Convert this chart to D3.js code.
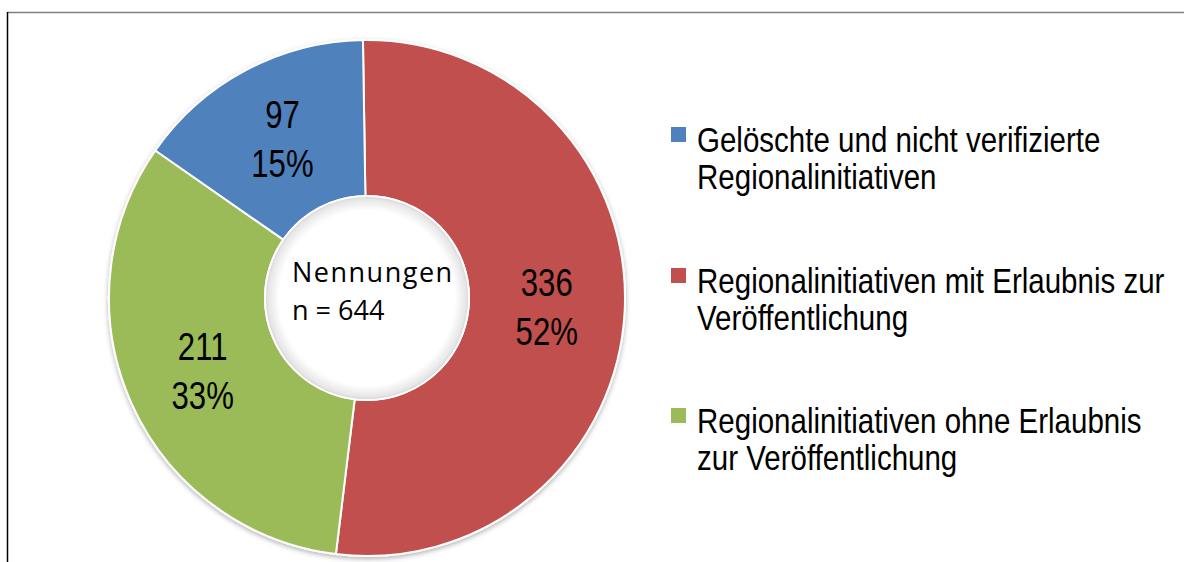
<!DOCTYPE html>
<html>
<head>
<meta charset="utf-8">
<script src="https://cdn.jsdelivr.net/npm/d3@7"></script>
<style>
  body { margin: 0; background: #fff; }
  svg { display: block; }
</style>
</head>
<body>
<div id="chart"></div>
<script>
// Werte aus der Grafik
var categories = ["Regionalinitiativen mit Erlaubnis zur Veröffentlichung",
                  "Regionalinitiativen ohne Erlaubnis zur Veröffentlichung",
                  "Gelöschte und nicht verifizierte Regionalinitiativen"];
var values = [336, 211, 97];
var percents = ["52%", "33%", "15%"];
var colors = ["#C0504D", "#9BBB59", "#4F81BD"];

// Legende: Reihenfolge wie im Bild, mit Zeilenumbruch
var legendLines = [
  ["Gelöschte und nicht verifizierte", "Regionalinitiativen"],
  ["Regionalinitiativen mit Erlaubnis zur", "Veröffentlichung"],
  ["Regionalinitiativen ohne Erlaubnis", "zur Veröffentlichung"]
];
var legendColors = ["#4F81BD", "#C0504D", "#9BBB59"];
var centerLines = ["Nennungen", "n = 644"];

var width = 1184, height = 562;
var cx = 367, cy = 298;
var rOuter = 258, rInner = 102;
var narrow = 0.82; // Arial Narrow nachbilden

var svg = d3.select("#chart").append("svg")
  .attr("width", width)
  .attr("height", height);

var defs = svg.append("defs");
var shadow = defs.append("filter").attr("id", "shadow")
  .attr("x", "-10%").attr("y", "-10%").attr("width", "120%").attr("height", "120%");
shadow.append("feDropShadow")
  .attr("dx", 0).attr("dy", 2).attr("stdDeviation", 2.5)
  .attr("flood-color", "#000").attr("flood-opacity", 0.3);

var grad = defs.append("radialGradient").attr("id", "hole");
grad.append("stop").attr("offset", "0.86").attr("stop-color", "#ffffff");
grad.append("stop").attr("offset", "0.97").attr("stop-color", "#e6e6e6");
grad.append("stop").attr("offset", "1").attr("stop-color", "#cfcfcf");

// Rahmen
svg.append("line").attr("x1", 7).attr("y1", 12.5).attr("x2", width).attr("y2", 12.5)
  .attr("stroke", "#7f7f7f").attr("stroke-width", 1.5);
svg.append("line").attr("x1", 7.5).attr("y1", 12).attr("x2", 7.5).attr("y2", height)
  .attr("stroke", "#000").attr("stroke-width", 1.5);

var startRot = -0.9 * Math.PI / 180;
var pie = d3.pie().sort(null)
  .startAngle(startRot).endAngle(startRot + 2 * Math.PI);
var arcs = pie(values);

var arc = d3.arc().innerRadius(rInner).outerRadius(rOuter);
var labelArc = d3.arc().innerRadius((rInner + rOuter) / 2).outerRadius((rInner + rOuter) / 2);

var g = svg.append("g").attr("transform", "translate(" + cx + "," + cy + ")");

g.append("g").attr("filter", "url(#shadow)")
  .selectAll("path").data(arcs).enter().append("path")
  .attr("d", arc)
  .attr("fill", function(d, i) { return colors[i]; })
  .attr("stroke", "#fff")
  .attr("stroke-width", 2)
  .attr("stroke-linejoin", "round");

// Loch mit Innenschatten
g.append("circle").attr("r", rInner)
  .attr("fill", "url(#hole)")
  .attr("stroke", "#fff").attr("stroke-width", 2);

// Datenbeschriftungen
var labels = g.selectAll("text.lbl").data(arcs).enter().append("text")
  .attr("class", "lbl")
  .attr("text-anchor", "middle")
  .style("font-family", "'Liberation Sans', Arial, sans-serif")
  .style("font-size", "38px")
  .attr("fill", "#000")
  .attr("transform", function(d) {
    var c = labelArc.centroid(d);
    return "translate(" + c[0] + "," + c[1] + ") scale(" + narrow + ",1)";
  });
labels.append("tspan").attr("x", 0).attr("y", -11.5).text(function(d) { return d.data; });
labels.append("tspan").attr("x", 0).attr("y", 37.5).text(function(d, i) { return percents[i]; });

// Mitte
g.selectAll("text.ctr").data(centerLines).enter().append("text")
  .attr("class", "ctr")
  .attr("x", -75)
  .attr("y", function(d, i) { return -16 + i * 38; })
  .style("font-family", "'Open Sans', sans-serif")
  .style("font-size", "27px")
  .style("letter-spacing", function(d, i) { return i === 0 ? "1.5px" : "0px"; })
  .attr("fill", "#000")
  .text(function(d) { return d; });

// Legende
var legendTop = [152, 293, 433];
var leg = svg.append("g").selectAll("g").data(legendLines).enter().append("g")
  .attr("transform", function(d, i) { return "translate(671," + legendTop[i] + ")"; });
leg.append("rect").attr("x", 0).attr("y", -25).attr("width", 15).attr("height", 15)
  .attr("fill", function(d, i) { return legendColors[i]; });
leg.append("text")
  .attr("transform", "translate(26,0) scale(" + narrow + ",1)")
  .style("font-family", "'Liberation Sans', Arial, sans-serif")
  .style("font-size", "36px")
  .attr("fill", "#000")
  .selectAll("tspan").data(function(d) { return d; }).enter().append("tspan")
  .attr("x", 0)
  .attr("y", function(d, i) { return i * 37; })
  .text(function(d) { return d; });
</script>
</body>
</html>
